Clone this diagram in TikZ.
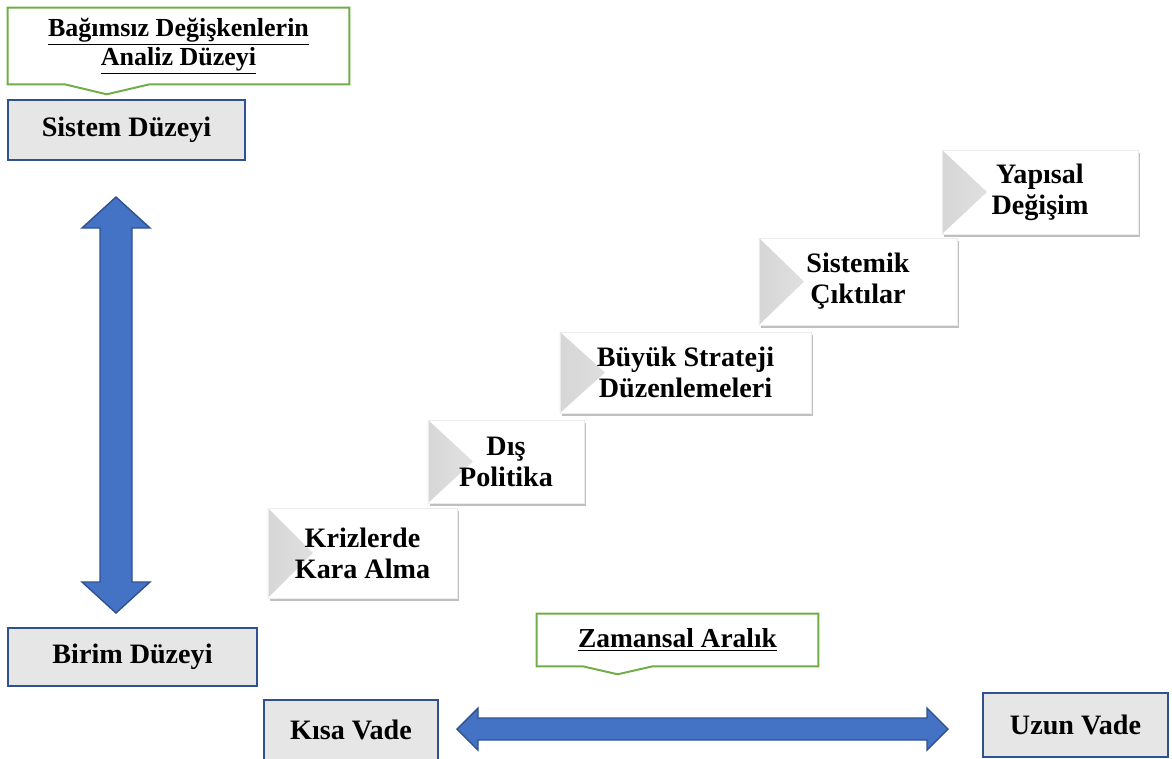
\documentclass[tikz,border=0pt]{standalone}
\usepackage{fontspec}
\setmainfont{Liberation Serif}
\usetikzlibrary{calc,shadows}
\definecolor{arrowblue}{HTML}{4472C4}
\definecolor{edgeblue}{HTML}{2F528F}
\definecolor{boxgrey}{HTML}{E7E6E6}
\definecolor{notegreen}{HTML}{70AD47}

\begin{document}
\begin{tikzpicture}[x=0.025cm, y=-0.025cm,
    level/.style = {draw=edgeblue, line width=1.4pt, fill=boxgrey, inner sep=0pt,
      font=\fontsize{20}{22}\selectfont\bfseries},
    stepbox/.style = {fill=white, draw=gray!15, align=center, inner sep=0pt,
      font=\fontsize{20}{22}\selectfont\bfseries,
      drop shadow={shadow xshift=1.2pt, shadow yshift=-2.2pt, fill=black, opacity=.25},
      path picture={\fill[left color=gray!32, right color=white]
        (path picture bounding box.north west) -- (path picture bounding box.south west)
        -- ($(path picture bounding box.west)+(45,0)$) -- cycle;}},
    note/.style = {inner sep=0pt, align=center},
    notebox/.style = {draw=notegreen, line width=1.4pt, line join=miter},
    bigarrow/.style = {fill=arrowblue, draw=edgeblue, line width=1pt, line join=miter}]
  \useasboundingbox (0,0) rectangle (1172,758);

  \node [note, font=\fontsize{18.5}{21}\selectfont\bfseries, minimum width=8.525cm, minimum height=1.9cm] (anz) at (178.5,46)
        {\underline{Bağımsız Değişkenlerin}\\\underline{Analiz Düzeyi}};
  \draw [notebox] (anz.north west) -- (anz.north east) -- (anz.south east)
        -- ($(anz.south west)+(142,0)$) -- ($(anz.south west)+(99,10)$) -- ($(anz.south west)+(57,0)$)
        -- (anz.south west) -- cycle;

  \node [level, minimum width=5.925cm, minimum height=1.5cm] (sys) at (126.5,130) {Sistem Düzeyi};
  \node [level, minimum width=6.225cm, minimum height=1.45cm] (unit) at (132.5,657) {Birim Düzeyi};
  \node [level, minimum width=4.35cm, minimum height=1.5cm] (short) at (351,730) {Kısa Vade};
  \node [level, minimum width=4.625cm, minimum height=1.6cm] (long) at (1075.5,725) {Uzun Vade};

  \node [note, font=\fontsize{19.5}{22}\selectfont\bfseries, minimum width=7.025cm, minimum height=1.3cm] (tme) at (677.5,640)
        {\underline{Zamansal Aralık}};
  \draw [notebox] (tme.north west) -- (tme.north east) -- (tme.south east)
        -- ($(tme.south west)+(116,0)$) -- ($(tme.south west)+(81,8)$) -- ($(tme.south west)+(46,0)$)
        -- (tme.south west) -- cycle;

  \draw [bigarrow] (116,197) -- (150,228) -- (132,228) -- (132,582) -- (150,582) -- (116,613)
        -- (82,582) -- (100,582) -- (100,228) -- (82,228) -- cycle;
  \draw [bigarrow] (457,729) -- (478,708) -- (478,718) -- (927,718) -- (927,708) -- (948,729)
        -- (927,750) -- (927,740) -- (478,740) -- (478,750) -- cycle;

  \node [stepbox, minimum width=4.725cm, minimum height=2.25cm] (crisis) at (362.5,553) {Krizlerde\\Kara Alma};
  \node [stepbox, minimum width=3.9cm, minimum height=2.075cm] (policy) at (506,461.5) {Dış\\Politika};
  \node [stepbox, minimum width=6.275cm, minimum height=2.025cm] (grand) at (685.5,372.5) {Büyük Strateji\\Düzenlemeleri};
  \node [stepbox, minimum width=4.95cm, minimum height=2.175cm] (outcome) at (858,281.5) {Sistemik\\Çıktılar};
  \node [stepbox, minimum width=4.9cm, minimum height=2.1cm] (change) at (1040,192) {Yapısal\\Değişim};
\end{tikzpicture}
\end{document}
